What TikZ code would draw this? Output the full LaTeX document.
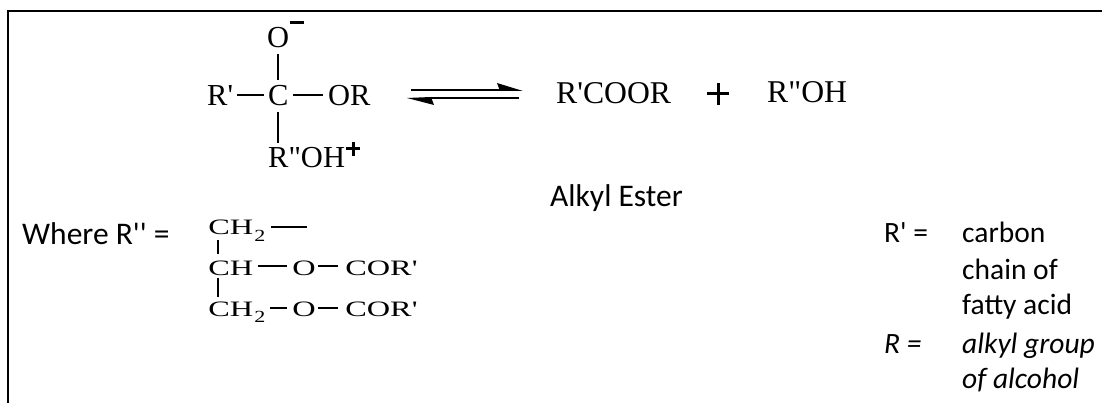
\documentclass[tikz,border=0pt]{standalone}
\usepackage{fontspec}
\setmainfont{Carlito}[Ligatures=TeXOff]
\newfontfamily\chemfont{Liberation Serif}
\tikzset{
  label text/.style={anchor=base west,inner sep=0pt,font=\fontsize{31.5}{32}\selectfont},
  legend text/.style={anchor=base west,inner sep=0pt,font=\fontsize{29.5}{30}\selectfont},
  legend ital/.style={anchor=base west,inner sep=0pt,font=\fontsize{29.5}{30}\selectfont\itshape},
  atom/.style={anchor=base west,inner sep=0pt,font=\fontsize{30.5}{31}\selectfont\chemfont},
  product/.style={anchor=base west,inner sep=0pt,font=\fontsize{31.7}{32}\selectfont\chemfont},
  small atom/.style={anchor=base west,inner sep=0pt,xscale=1.47,transform shape,font=\fontsize{22}{22}\selectfont\chemfont},
  small sub/.style={anchor=base west,inner sep=0pt,xscale=1.3,transform shape,font=\fontsize{17}{17}\selectfont\chemfont},
  bond/.style={line width=1.6pt,black},
  frame/.style={line width=2.4pt,black},
}
\begin{document}
\begin{tikzpicture}[x=1pt,y=-1pt]
\useasboundingbox (0,0) rectangle (1102,403);
\coordinate (fa) at (8,403);
\coordinate (fb) at (8,11);
\coordinate (fc) at (1102,11);
\draw[frame] (fa) -- (fb) -- (fc);
% upper intermediate
\node[atom] (O) at (267,48) {O};
\node[atom] (Rp) at (207,106) {R'};
\node[atom] (C) at (268,106) {C};
\node[atom] (OR) at (328,106) {OR};
\node[atom] (ROH) at (268,168) {R"OH};
\node[anchor=center,inner sep=0pt] (minus) at (297,23) {\rule{14pt}{3pt}};
\node[anchor=center,inner sep=0pt] (plus) at (353,149) {\rule{14pt}{3pt}\kern-8.5pt\rule[-5.5pt]{3pt}{14pt}\kern5.5pt};
\coordinate (b1a) at (278,54); \coordinate (b1b) at (278,80);
\coordinate (b2a) at (278,112); \coordinate (b2b) at (278,143);
\coordinate (b3a) at (237,95); \coordinate (b3b) at (264,95);
\coordinate (b4a) at (293,95); \coordinate (b4b) at (323,95);
\draw[bond] (b1a) -- (b1b);
\draw[bond] (b2a) -- (b2b);
\draw[bond] (b3a) -- (b3b);
\draw[bond] (b4a) -- (b4b);
% equilibrium arrows
\coordinate (ar1) at (411,90); \coordinate (ar2) at (523,91);
\coordinate (ar3) at (519,98); \coordinate (ar4) at (407,98);
\draw[line width=2pt] (ar1) -- (500,90);
\fill (ar2) -- (497,83) -- (500,91) -- cycle;
\draw[line width=2pt] (ar3) -- (430,98);
\fill (ar4) -- (434,105) -- (431,97) -- cycle;
% products
\node[product] (est) at (556,104) {R'COOR};
\node[anchor=center,inner sep=0pt] (plus2) at (718,94) {\rule{22pt}{3pt}\kern-12.5pt\rule[-9.5pt]{3pt}{22pt}\kern9.5pt};
\node[product] (alc) at (767,103) {R"OH};
\node[label text] (alk) at (550,207) {Alkyl Ester};
% where R''
\node[label text] (where) at (22,245) {Where R'' =};
\node[small atom] (ch2a) at (208,235) {CH};
\node[small sub] (sub1) at (254,241) {2};
\node[small atom] (cha) at (208,275) {CH};
\node[small atom] (oa) at (292,275) {O};
\node[small atom] (cora) at (345,275) {COR'};
\node[small atom] (ch2b) at (208,316) {CH};
\node[small sub] (sub2) at (254,322) {2};
\node[small atom] (ob) at (292,316) {O};
\node[small atom] (corb) at (345,316) {COR'};
\coordinate (c1) at (271,227); \coordinate (c2) at (307,227);
\coordinate (c3) at (218,240); \coordinate (c4) at (218,254);
\coordinate (c5) at (258,266); \coordinate (c6) at (287,266);
\coordinate (c7) at (318,266); \coordinate (c8) at (338,266);
\coordinate (c9) at (218,278); \coordinate (c10) at (218,297);
\coordinate (c11) at (270,308); \coordinate (c12) at (287,308);
\coordinate (c13) at (318,308); \coordinate (c14) at (338,308);
\draw[bond] (c1) -- (c2);
\draw[bond] (c3) -- (c4);
\draw[bond] (c5) -- (c6);
\draw[bond] (c7) -- (c8);
\draw[bond] (c9) -- (c10);
\draw[bond] (c11) -- (c12);
\draw[bond] (c13) -- (c14);
% legend
\node[legend text] (rp) at (884,243) {R' =};
\node[legend text] (l1) at (962,243) {carbon};
\node[legend text] (l2) at (962,279) {chain of};
\node[legend text] (l3) at (962,314) {fatty acid};
\node[legend ital] (r) at (884,353) {R =};
\node[legend ital] (l4) at (962,353) {alkyl group};
\node[legend ital] (l5) at (962,388) {of alcohol};
\end{tikzpicture}
\end{document}
